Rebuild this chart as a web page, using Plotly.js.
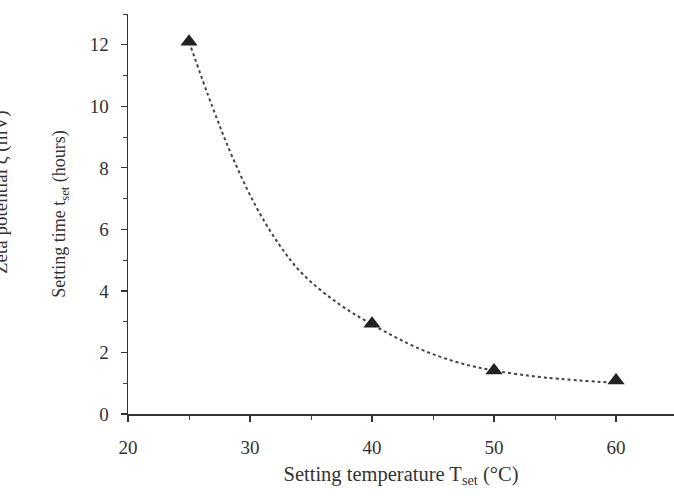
<!DOCTYPE html>
<html>
<head>
<meta charset="utf-8">
<script src="https://cdn.plot.ly/plotly-3.0.1.min.js"></script>
<style>html,body{margin:0;padding:0;background:#fff;}#chart{width:674px;height:496px;}</style>
</head>
<body>
<div id="chart"></div>
<script>
const setTemp = [25, 40, 50, 60];          // Setting temperature T_set (°C)
const setTime = [12.1, 2.93, 1.41, 1.09];  // Setting time t_set (hours)
// Dotted fitted curve
const fitTemp = [25.0, 26.92, 28.56, 30.48, 32.40, 34.31, 37.20, 40.06, 43.89, 47.18, 50.19, 54.29, 60.04];
const fitTime = [12.1, 9.98, 8.35, 6.75, 5.50, 4.55, 3.60, 2.90, 2.12, 1.66, 1.40, 1.18, 1.01];
const xTickVals = [20, 30, 40, 50, 60];
const yTickVals = [0, 2, 4, 6, 8, 10, 12];

const font = "'Liberation Serif', 'DejaVu Serif', serif";
const fs = 19;

const traces = [
  {
    x: fitTemp, y: fitTime, mode: 'lines', type: 'scatter',
    line: {shape: 'spline', smoothing: 1.0, dash: 'dot', color: '#444', width: 2},
    hoverinfo: 'skip', showlegend: false
  },
  {
    x: setTemp, y: setTime, mode: 'markers', type: 'scatter',
    marker: {symbol: 'triangle-up', size: 15, color: '#222'},
    showlegend: false
  }
];

const layout = {
  width: 674, height: 496,
  margin: {l: 128, r: 0, t: 14, b: 82},
  paper_bgcolor: '#fff', plot_bgcolor: '#fff',
  font: {family: font, size: fs, color: '#333'},
  xaxis: {
    range: [20, 64.75], tickvals: xTickVals, ticktext: xTickVals.map(String),
    showgrid: false, zeroline: false, showline: true, linecolor: '#333', linewidth: 1.5,
    ticks: 'outside', ticklen: 6, tickwidth: 1.2, tickcolor: '#333', ticklabelstandoff: 10,
    minor: {dtick: 5, tick0: 20, ticks: 'outside', ticklen: 4, tickwidth: 1, tickcolor: '#444'},
    tickfont: {family: font, size: fs, color: '#333'},
    title: {text: 'Setting temperature T<sub>set</sub> (°C)', font: {family: font, size: 20.5, color: '#333'}, standoff: 9}
  },
  yaxis: {
    range: [0, 13], tickvals: yTickVals, ticktext: yTickVals.map(String),
    showgrid: false, zeroline: false, showline: true, linecolor: '#333', linewidth: 1.5,
    ticks: 'outside', ticklen: 6, tickwidth: 1.2, tickcolor: '#333', ticklabelstandoff: 8,
    minor: {dtick: 1, tick0: 0, ticks: 'outside', ticklen: 4, tickwidth: 1, tickcolor: '#444'},
    tickfont: {family: font, size: fs, color: '#333'},
    title: {text: 'Setting time t<sub>set</sub> (hours)', font: {family: font, size: 18, color: '#333'}, standoff: 19}
  },
  annotations: [
    {
      text: 'Zeta potential ζ (mV)', textangle: -90,
      xref: 'paper', yref: 'paper', x: 0, y: 0.555, xshift: -127,
      xanchor: 'center', yanchor: 'middle', showarrow: false,
      font: {family: font, size: fs, color: '#333'}
    }
  ]
};

Plotly.newPlot('chart', traces, layout, {displayModeBar: false, staticPlot: true});
</script>
</body>
</html>
